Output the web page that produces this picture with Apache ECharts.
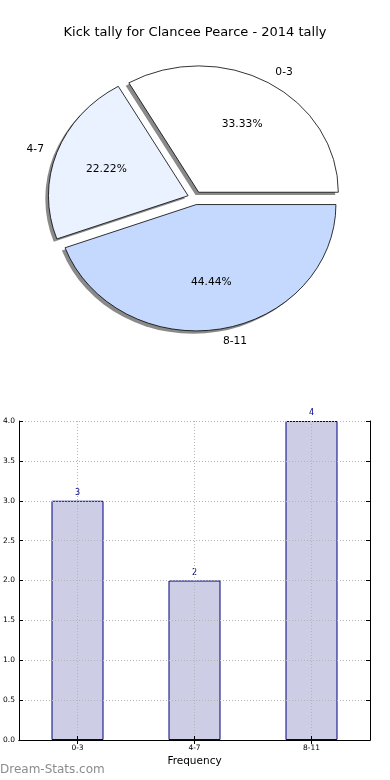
<!DOCTYPE html>
<html>
<head>
<meta charset="utf-8">
<script src="https://cdn.jsdelivr.net/npm/echarts@6/dist/echarts.min.js"></script>
<style>
html,body{margin:0;padding:0;background:#fff;}
#wrap{position:relative;width:390px;height:780px;}
#c{position:absolute;left:0;top:0;width:390px;height:780px;}
#p{position:absolute;left:0;top:0;width:390px;height:400px;transform-origin:195px 198px;transform:scale(1.05,0.95);pointer-events:none;}
</style>
</head>
<body>
<div id="wrap"><div id="c"></div><div id="p"></div></div>
<script>
const chartTitle = 'Kick tally for Clancee Pearce - 2014 tally';
const categories = ['0-3', '4-7', '8-11'];
const counts = [3, 2, 4];
const pieColors = ['#FFFFFF', '#EAF1FF', '#C5D9FF'];
const xAxisName = 'Frequency';
const watermark = 'Dream-Stats.com';
const yMin = 0, yMax = 4, yStep = 0.5;

const FONT = 'DejaVu Sans';
const R = 133;
const CENTER = [195, 198];
const total = counts.reduce((a, b) => a + b, 0);
const pieData = categories.map((c, i) => ({
  name: c, value: counts[i], selected: true,
  itemStyle: { color: pieColors[i] }
}));
const plainData = categories.map((c, i) => ({
  name: c, value: counts[i], selected: true
}));

const chart = echarts.init(document.getElementById('c'), null, { renderer: 'canvas' });
const pie = echarts.init(document.getElementById('p'), null, { renderer: 'svg' });
const gridLine = { color: '#b4b4b4', width: 1, type: [1, 2] };
const pieCommon = {
  type: 'pie', startAngle: 0, clockwise: false,
  selectedMode: 'multiple', selectedOffset: 7,
  avoidLabelOverlap: false, emphasis: { disabled: true }, silent: true
};

chart.setOption({
  animation: false,
  backgroundColor: '#fff',
  textStyle: { fontFamily: FONT },
  title: {
    text: chartTitle, left: 'center', top: 21,
    textStyle: { fontFamily: FONT, fontSize: 13, fontWeight: 'normal', color: '#000' }
  },
  graphic: [{
    type: 'text', left: 0, top: 764,
    style: { text: watermark, fontFamily: FONT, fontSize: 12, fill: '#8c8c8c' }
  }],
  grid: { left: 19, right: 20, top: 421, bottom: 40 },
  xAxis: [{
    type: 'category', data: categories, position: 'bottom', z: 5,
    boundaryGap: true,
    axisLine: { lineStyle: { color: '#000', width: 1 } },
    axisTick: { show: true, inside: true, alignWithLabel: true, length: 4, lineStyle: { color: '#000' } },
    axisLabel: { fontFamily: FONT, fontSize: 7.5, color: '#000', margin: 4 },
    splitLine: { show: false },
    name: xAxisName, nameLocation: 'middle', nameGap: 16,
    nameTextStyle: { fontFamily: FONT, fontSize: 10.5, color: '#000' }
  }, {
    type: 'category', data: categories, position: 'top', z: 5,
    boundaryGap: true,
    axisLine: { lineStyle: { color: '#000', width: 1 } },
    axisTick: { show: true, inside: true, alignWithLabel: true, length: 4, lineStyle: { color: '#000' } },
    axisLabel: { show: false }, splitLine: { show: false }
  }],
  yAxis: [{
    type: 'value', min: yMin, max: yMax, interval: yStep, position: 'left', z: 5,
    axisLine: { show: true, lineStyle: { color: '#000', width: 1 } },
    axisTick: { show: true, inside: true, length: 4, lineStyle: { color: '#000' } },
    axisLabel: { fontFamily: FONT, fontSize: 7.5, color: '#000', margin: 4, formatter: v => v.toFixed(1) },
    splitLine: { show: true, lineStyle: gridLine }
  }, {
    type: 'value', min: yMin, max: yMax, interval: yStep, position: 'right', z: 5,
    axisLine: { show: true, lineStyle: { color: '#000', width: 1 } },
    axisTick: { show: true, inside: true, length: 4, lineStyle: { color: '#000' } },
    axisLabel: { show: false }, splitLine: { show: false }
  }],
  series: [{
    type: 'bar', data: counts, xAxisIndex: 0, yAxisIndex: 0, barWidth: 52,
    itemStyle: { color: '#CDCDE5', borderColor: '#000080', borderWidth: 1 },
    label: { show: true, position: 'top', distance: 4, fontFamily: FONT, fontSize: 8, color: '#000080' },
    markLine: {
      silent: true, symbol: 'none', label: { show: false }, z: 4,
      lineStyle: gridLine, emphasis: { disabled: true },
      data: categories.map(c => ({ xAxis: c }))
    },
    silent: true, z: 2
  }]
});

pie.setOption({
  animation: false,
  textStyle: { fontFamily: FONT },
  series: [Object.assign({}, pieCommon, {
    center: [CENTER[0] - 3, CENTER[1] + 3], radius: R,
    data: plainData,
    itemStyle: { color: '#8a8a8a', borderWidth: 0 },
    select: { itemStyle: { color: '#8a8a8a', borderWidth: 0 } },
    label: { show: false }, labelLine: { show: false }, z: 1
  }), Object.assign({}, pieCommon, {
    center: CENTER, radius: R,
    data: pieData,
    itemStyle: { borderColor: '#000', borderWidth: 0.8 },
    select: { itemStyle: { borderColor: '#000', borderWidth: 0.8 } },
    label: { show: true, position: 'outside', fontFamily: FONT, fontSize: 10.2, color: '#000', distanceToLabelLine: 0, formatter: '{b}' },
    labelLine: { show: false, length: Math.round(R * 0.1), length2: 0 },
    z: 2
  }), Object.assign({}, pieCommon, {
    center: CENTER, radius: R * 1.2,
    data: plainData,
    itemStyle: { color: 'rgba(0,0,0,0)', borderWidth: 0 },
    select: { itemStyle: { color: 'rgba(0,0,0,0)', borderWidth: 0 } },
    label: { show: true, position: 'inside', fontFamily: FONT, fontSize: 10.2, color: '#000',
      formatter: p => (p.value / total * 100).toFixed(2) + '%' },
    labelLine: { show: false },
    z: 3
  })]
});
</script>
</body>
</html>
